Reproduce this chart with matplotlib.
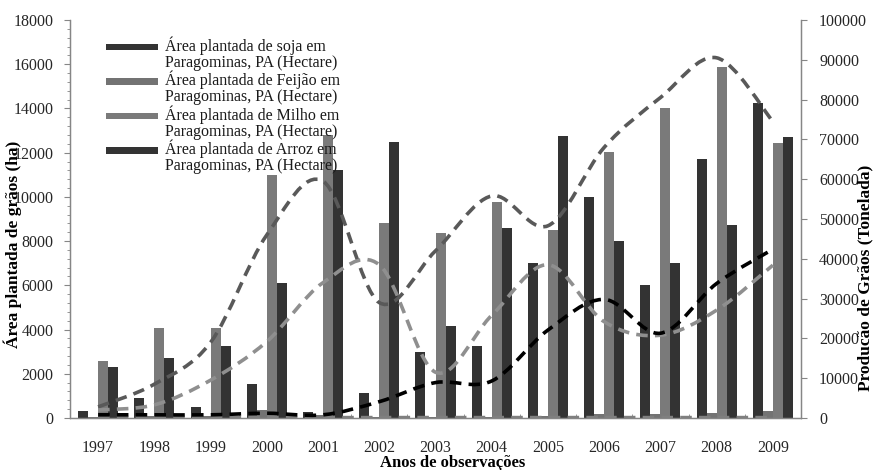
import numpy as np
import matplotlib
matplotlib.use("Agg")
import matplotlib.pyplot as plt
from matplotlib.path import Path
from matplotlib.patches import PathPatch, Rectangle
from matplotlib.legend_handler import HandlerPatch
from matplotlib.ticker import MultipleLocator, FixedLocator

# ---------------- data ----------------
years = ["1997", "1998", "1999", "2000", "2001", "2002", "2003",
         "2004", "2005", "2006", "2007", "2008", "2009"]

# planted area (ha) - left axis
area_soja = [300, 900, 500, 1540, 250, 1120, 3000, 3240, 7000, 10000, 6000, 11730, 14230]
area_feijao = [60, 80, 100, 350, 120, 60, 50, 60, 70, 180, 180, 240, 320]
area_milho = [2590, 4070, 4070, 11000, 12800, 8810, 8350, 9770, 8500, 12020, 14010, 15860, 12450]
area_arroz = [2290, 2710, 3270, 6100, 11220, 12480, 4160, 8610, 12770, 8010, 7010, 8730, 12720]

# production (t) - right axis
prod_milho = [2800, 8500, 19000, 46000, 59500, 29000, 42000, 55800, 48300, 68000, 80500, 90500, 74500]
prod_arroz = [2000, 3300, 9500, 19200, 34000, 38500, 11500, 25800, 38500, 24200, 20800, 27100, 38400]
prod_soja = [800, 800, 800, 1200, 800, 4100, 8900, 9300, 22100, 29800, 21300, 33800, 42400]
prod_feijao = [100, 100, 100, 150, 100, 100, 100, 100, 100, 100, 100, 100, 100]

legend_labels = [
    "Área plantada de soja em\nParagominas, PA (Hectare)",
    "Área plantada de Feijão em\nParagominas, PA (Hectare)",
    "Área plantada de Milho em\nParagominas, PA (Hectare)",
    "Área plantada de Arroz em\nParagominas, PA (Hectare)",
]

# ---------------- style ----------------
plt.rcParams["font.family"] = ["Liberation Serif", "DejaVu Serif"]
AXC = "#868686"
DARK = "#333333"
MID = "#737373"
MID2 = "#7a7a7a"

fig = plt.figure(figsize=(8.76, 4.70), dpi=100)
ax = fig.add_axes([70 / 876, 1 - 418 / 470, 731 / 876, 398 / 470])
ax2 = ax.twinx()

x = np.arange(len(years))
w = 0.178
bars = []
for i, (vals, col) in enumerate(zip([area_soja, area_feijao, area_milho, area_arroz],
                                    [DARK, MID, MID2, DARK])):
    b = ax.bar(x + (i - 1.5) * w, vals, width=w, color=col, edgecolor="none", zorder=2)
    bars.append(b)

ax.set_xlim(-0.5, len(years) - 0.5)
ax.set_ylim(0, 18000)
ax2.set_ylim(0, 100000)

# smooth (bezier) dashed lines through yearly points, drawn by matplotlib Path
def smooth_path(xs, ys):
    pts = np.column_stack([xs, ys]).astype(float)
    n = len(pts)
    verts = [pts[0]]
    codes = [Path.MOVETO]
    for i in range(n - 1):
        p0 = pts[i - 1] if i > 0 else pts[i]
        p1 = pts[i]
        p2 = pts[i + 1]
        p3 = pts[i + 2] if i + 2 < n else pts[i + 1]
        c1 = p1 + (p2 - p0) / 6.0
        c2 = p2 - (p3 - p1) / 6.0
        verts += [c1, c2, p2]
        codes += [Path.CURVE4] * 3
    return Path(verts, codes)

for vals, col in [(prod_feijao, "#7f7f7f"), (prod_milho, "#595959"),
                  (prod_arroz, "#8f8f8f"), (prod_soja, "#000000")]:
    pp = PathPatch(smooth_path(x, vals), fill=False, edgecolor=col,
                   linewidth=2.6, linestyle=(0, (3.2, 2.0)), zorder=3)
    ax2.add_patch(pp)

# axes styling
for a in (ax, ax2):
    a.spines["top"].set_visible(False)
    for s in ("left", "right", "bottom"):
        a.spines[s].set_color(AXC)
        a.spines[s].set_linewidth(0.9)

ax.yaxis.set_major_locator(MultipleLocator(2000))
ax.yaxis.set_minor_locator(MultipleLocator(400))
ax.tick_params(axis="y", which="major", direction="out", length=4, color=AXC,
               labelsize=11.5, pad=8, labelcolor="#262626")
ax.tick_params(axis="y", which="minor", direction="out", length=2.5, color=AXC)
ax.set_xticks(x)
ax.set_xticklabels(years)
ax.xaxis.set_minor_locator(FixedLocator(np.arange(-0.5, len(years), 1.0)))
ax.tick_params(axis="x", which="major", length=0, labelsize=11.5, pad=16,
               labelcolor="#262626")
ax.tick_params(axis="x", which="minor", direction="in", length=3, color=AXC)

ax2.yaxis.set_major_locator(MultipleLocator(10000))
ax2.tick_params(axis="y", which="major", direction="out", length=4, color=AXC,
                labelsize=11.5, pad=9, labelcolor="#262626")

ax.set_xlabel("Anos de observações", fontsize=12, fontweight="bold")
ax.xaxis.set_label_coords(0.523, -0.093)
ax.set_ylabel("Área plantada de grãos (ha)", fontsize=12.5, fontweight="bold")
ax.yaxis.set_label_coords(-0.066, 0.437)
ax2.set_ylabel("Producão de Grãos (Tonelada)", fontsize=12.5, fontweight="bold")
ax2.yaxis.set_label_coords(1.077, 0.352)

ax.set_zorder(1)
ax2.set_zorder(2)
ax2.patch.set_visible(False)


# legend: thick handle aligned with the first text line
def top_patch(legend, orig_handle, xdescent, ydescent, width, height, fontsize):
    h = 0.42 * fontsize
    return Rectangle((-xdescent, -ydescent + height - h - 0.15 * fontsize), width, h)


proxies = [b.patches[0] for b in bars]
leg = ax2.legend(proxies, legend_labels, loc="upper left",
                 bbox_to_anchor=((100 - 70) / 731, (418 - 30) / 398),
                 frameon=False, fontsize=11.5, handlelength=3.2, handleheight=2.2,
                 handletextpad=0.45, labelspacing=0.0, borderaxespad=0,
                 handler_map={Rectangle: HandlerPatch(patch_func=top_patch)})
for t in leg.get_texts():
    t.set_linespacing(1.0)
    t.set_color("#1a1a1a")

fig.savefig("out.png", dpi=100)
